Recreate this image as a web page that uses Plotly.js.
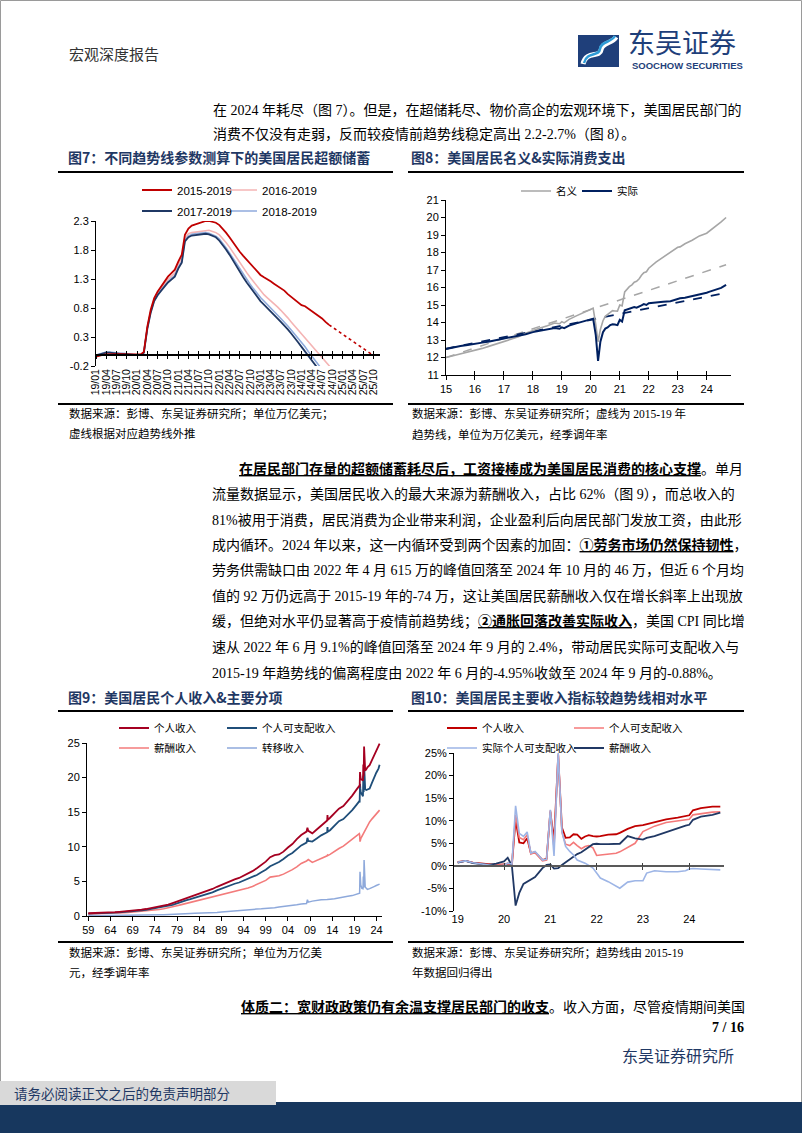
<!DOCTYPE html>
<html><head><meta charset="utf-8">
<script src="https://cdn.plot.ly/plotly-3.0.1.min.js"></script>
<style>html,body{margin:0;padding:0;background:#fff}#chart{width:802px;height:1133px}</style>
</head><body><div id="chart"></div>
<script>
// ---------------- DATA ----------------
// Fig 7: excess savings (trillion USD), monthly from 2019-01
const fig7Start = [2019, 1];
const save2015 = [-0.04,-0.02,-0.01,0.0,0.005,0.005,0.005,0.005,0.0,0.0,0.0,0.0,0.0,0.0,0.04,
  0.48,0.77,0.97,1.08,1.17,1.26,1.34,1.40,1.46,1.60,1.72,2.06,2.17,2.22,2.24,2.26,2.29,2.30,2.30,2.28,2.27,
  2.23,2.17,2.10,2.02,1.93,1.85,1.77,1.70,1.63,1.56,1.50,1.43,1.37,1.33,1.29,1.26,1.22,1.18,1.14,1.10,
  1.04,0.99,0.94,0.90,0.85,0.83,0.79,0.76,0.71,0.67,0.62,0.56,0.51];
const save2016 = [-0.02,0.0,0.02,0.03,0.03,0.03,0.02,0.02,0.01,0.01,0.0,0.0,-0.01,-0.01,0.03,
  0.46,0.75,0.95,1.06,1.14,1.22,1.29,1.35,1.40,1.55,1.66,2.00,2.08,2.10,2.11,2.12,2.13,2.14,2.14,2.12,2.10,
  2.06,2.00,1.93,1.85,1.76,1.67,1.58,1.49,1.41,1.33,1.25,1.17,1.10,1.03,0.98,0.93,0.88,0.82,0.76,0.70,
  0.63,0.56,0.49,0.42,0.35,0.28,0.21,0.14,0.08,0.02,-0.05,-0.12,-0.19,-0.26];
const save2017 = [-0.02,0.0,0.02,0.03,0.03,0.02,0.02,0.01,0.01,0.0,0.0,-0.01,-0.01,-0.01,0.03,
  0.44,0.72,0.92,1.02,1.10,1.17,1.24,1.29,1.34,1.48,1.58,1.95,2.02,2.05,2.06,2.07,2.08,2.08,2.07,2.05,2.02,
  1.96,1.89,1.81,1.72,1.62,1.52,1.42,1.33,1.24,1.16,1.08,1.00,0.92,0.86,0.80,0.74,0.68,0.62,0.56,0.50,
  0.43,0.36,0.29,0.21,0.13,0.05,-0.03,-0.11,-0.19,-0.26];
const save2018 = [-0.01,0.01,0.03,0.04,0.04,0.03,0.03,0.02,0.02,0.01,0.01,0.0,-0.01,-0.01,0.03,
  0.45,0.73,0.93,1.03,1.11,1.18,1.25,1.31,1.36,1.50,1.60,1.97,2.04,2.07,2.08,2.09,2.10,2.10,2.09,2.07,2.04,
  1.99,1.92,1.84,1.75,1.66,1.56,1.47,1.38,1.29,1.21,1.13,1.05,0.98,0.92,0.86,0.80,0.74,0.68,0.62,0.56,
  0.49,0.42,0.35,0.28,0.20,0.13,0.05,-0.03,-0.11,-0.19,-0.26];
const save2015ExtDates = ['2024-09-01','2025-10-01'];
const save2015Ext = [0.51,-0.02];
const fig7Names = ['2015-2019','2016-2019','2017-2019','2018-2019'];
const fig7YTicks = [-0.2,0.3,0.8,1.3,1.8,2.3];
const fig7YText = ['-0.2','0.3','0.8','1.3','1.8','2.3'];

// Fig 8: nominal & real PCE (trillion USD, SAAR)
const x8 = [2015.0,2015.25,2015.5,2015.75, 2016.0,2016.25,2016.5,2016.75, 2017.0,2017.25,2017.5,2017.75,
  2018.0,2018.25,2018.5,2018.75,2018.92, 2019.0,2019.08,2019.25,2019.5,2019.75,
  2020.0,2020.08,2020.17,2020.25,2020.33,2020.42,2020.5,2020.58,2020.67,2020.75,2020.83,2020.92,
  2021.0,2021.08,2021.17,2021.25,2021.33,2021.42,2021.5,2021.58,2021.67,2021.75,2021.83,2021.92,
  2022.0,2022.25,2022.5,2022.75, 2023.0,2023.08,2023.25,2023.5,2023.75, 2024.0,2024.08,2024.25,2024.5,2024.67];
const pceReal = [12.49,12.58,12.66,12.71, 12.76,12.85,12.92,13.00, 13.08,13.14,13.22,13.33,
  13.45,13.52,13.60,13.68,13.64, 13.72,13.68,13.82,13.95,14.05,
  14.17,14.22,13.30,11.80,12.90,13.45,13.65,13.72,13.85,13.90,13.88,13.85,
  14.15,14.05,14.70,14.75,14.78,14.82,14.88,14.85,14.90,14.98,15.05,15.00,
  15.10,15.12,15.18,15.22, 15.35,15.38,15.42,15.50,15.58, 15.70,15.75,15.85,15.98,16.15];
const pceNominal = [12.00,12.10,12.22,12.30, 12.40,12.52,12.65,12.78, 12.95,13.05,13.18,13.38,
  13.55,13.68,13.82,13.97,13.93, 14.05,13.98,14.18,14.38,14.55,
  14.75,14.82,13.90,12.90,13.60,14.10,14.35,14.45,14.60,14.68,14.66,14.65,
  15.00,14.95,15.75,15.90,16.05,16.15,16.30,16.35,16.50,16.70,16.85,16.90,
  17.10,17.45,17.75,18.00, 18.30,18.32,18.50,18.70,18.95, 19.10,19.20,19.45,19.75,20.00];
const trendX8 = [2015.0, 2024.67];
const trendNominal = [12.0, 17.3];
const trendReal = [12.5, 15.7];
const fig8XTicks = [2015,2016,2017,2018,2019,2020,2021,2022,2023,2024];
const fig8XText = ['15','16','17','18','19','20','21','22','23','24'];

// Fig 9: personal income & components (trillion USD, SAAR)
const x9 = [1959,1960,1961,1962,1963,1964,1965,1966,1967,1968,1969,1970,1971,1972,1973,1974,1975,1976,1977,1978,
  1979,1980,1981,1982,1983,1984,1985,1986,1987,1988,1989,1990,1991,1992,1993,1994,1995,1996,1997,1998,
  1999,2000,2001,2002,2003,2004,2005,2006,2007,
  2008.2,2008.4,2008.6,2009.5,2010.5,2011.5,2012.85,2012.92,2013.0,2013.5,2014.5,2015.5,2016.5,2017.5,2018.5,2019.5,
  2020.1,2020.17,2020.25,2020.33,2020.42,2020.67,2020.92,2021.0,2021.08,2021.17,2021.25,2021.42,2021.67,2021.92,
  2022.42,2022.92,2023.42,2023.92,2024.42,2024.67];
const personalIncome = [0.40,0.41,0.43,0.46,0.48,0.52,0.56,0.61,0.65,0.72,0.79,0.85,0.91,1.01,1.13,1.23,1.35,1.48,1.65,1.87,
  2.09,2.37,2.60,2.78,2.98,3.26,3.48,3.67,3.91,4.22,4.51,4.79,4.98,5.28,5.50,5.80,6.12,6.48,6.90,7.40,
  7.85,8.50,8.80,8.90,9.30,9.90,10.40,11.10,11.70,
  12.2,12.75,12.3,11.95,12.5,13.1,13.8,14.6,13.9,14.2,14.9,15.5,15.9,16.6,17.4,18.3,
  18.8,18.6,20.8,20.3,19.8,19.7,19.6,21.9,20.2,24.5,21.4,21.0,21.2,21.5,
  21.8,22.5,23.2,23.8,24.4,24.9];
const disposableIncome = [0.35,0.36,0.38,0.40,0.42,0.46,0.49,0.53,0.57,0.62,0.68,0.74,0.80,0.88,0.99,1.08,1.19,1.30,1.44,1.62,
  1.81,2.06,2.27,2.44,2.63,2.88,3.06,3.23,3.42,3.71,3.97,4.22,4.40,4.66,4.84,5.09,5.35,5.62,5.93,6.33,
  6.68,7.20,7.50,7.80,8.25,8.75,9.10,9.70,10.20,
  10.6,11.3,10.85,10.75,11.2,11.65,12.1,12.85,12.2,12.4,13.1,13.7,14.0,14.6,15.3,16.1,
  16.6,16.4,19.1,18.4,17.9,17.6,17.3,20.3,17.9,22.0,18.6,18.3,18.2,18.3,
  18.4,19.2,20.1,20.7,21.3,21.85];
const compensation = [0.28,0.29,0.30,0.32,0.34,0.37,0.40,0.44,0.47,0.52,0.57,0.61,0.65,0.72,0.80,0.87,0.94,1.05,1.17,1.33,
  1.49,1.64,1.80,1.90,2.03,2.21,2.36,2.50,2.68,2.88,3.05,3.23,3.33,3.52,3.66,3.86,4.05,4.27,4.55,4.88,
  5.15,5.62,5.72,5.82,6.05,6.35,6.70,7.10,7.60,
  7.95,8.1,8.15,7.75,8.0,8.35,8.7,8.8,8.75,8.9,9.35,9.75,10.1,10.6,11.15,11.6,
  11.9,11.7,10.75,10.9,11.2,11.5,11.75,11.85,11.9,12.0,12.15,12.4,12.75,13.1,
  13.6,14.0,14.4,14.8,15.05,15.3];
const transfers = [0.025,0.027,0.03,0.032,0.034,0.036,0.039,0.043,0.05,0.057,0.064,0.075,0.088,0.10,0.113,0.133,0.17,0.185,0.198,0.213,
  0.235,0.28,0.32,0.36,0.39,0.40,0.43,0.46,0.48,0.52,0.57,0.63,0.71,0.78,0.83,0.87,0.92,0.97,1.0,1.03,
  1.06,1.1,1.2,1.29,1.35,1.43,1.52,1.62,1.72,
  1.8,2.35,2.0,2.15,2.3,2.35,2.37,2.38,2.4,2.42,2.5,2.65,2.75,2.85,2.95,3.1,
  3.2,3.3,6.4,5.0,4.5,4.0,3.95,5.7,4.1,8.1,4.6,4.2,4.0,3.85,
  3.95,4.05,4.25,4.4,4.5,4.6];
const fig9XTicks = [1959,1964,1969,1974,1979,1984,1989,1994,1999,2004,2009,2014,2019,2024];
const fig9XText = ['59','64','69','74','79','84','89','94','99','04','09','14','19','24'];

// Fig 10: deviation from 2015-19 trend (%)
const x10 = [2019.0,2019.17,2019.33,2019.5,2019.67,2019.83,
  2020.0,2020.08,2020.17,2020.25,2020.33,2020.42,2020.5,2020.58,2020.67,2020.75,2020.83,2020.92,
  2021.0,2021.08,2021.17,2021.25,2021.33,2021.42,2021.5,2021.58,2021.67,2021.75,2021.83,2021.92,
  2022.0,2022.08,2022.25,2022.42,2022.5,2022.67,2022.83,
  2023.0,2023.08,2023.25,2023.5,2023.75,2023.92,
  2024.0,2024.08,2024.25,2024.5,2024.67];
const devIncome = [0.8,1.1,0.7,0.5,0.3,0.2,
  0.3,0.5,0.2,10.3,5.2,5.0,6.1,2.8,3.0,2.2,1.3,1.6,
  12.0,5.5,24.5,8.5,6.2,6.3,7.0,6.9,6.0,6.5,6.8,6.6,
  6.5,6.6,6.9,7.0,7.3,8.2,8.8,
  9.0,9.2,9.6,10.3,10.7,11.0,
  11.2,12.3,12.8,13.1,13.1];
const devDisposable = [0.9,1.1,0.7,0.4,0.3,0.2,
  0.2,0.6,0.3,11.3,6.3,5.8,6.9,2.6,3.0,2.0,1.1,1.3,
  12.3,4.0,24.8,7.5,4.8,4.5,5.2,4.5,3.8,4.3,4.5,4.0,
  2.3,2.4,2.6,2.8,3.1,4.0,5.0,
  7.6,8.0,8.8,9.6,10.0,10.2,
  10.3,11.3,11.6,11.9,12.0];
const devRealDisposable = [0.8,1.1,0.7,0.5,0.2,-0.1,
  0.1,0.6,0.4,13.3,7.2,6.5,7.5,2.8,3.2,2.3,1.3,1.5,
  12.4,2.2,25.0,7.6,4.3,3.2,2.4,1.3,1.0,0.6,0.1,-0.5,
  -1.6,-2.7,-3.5,-4.6,-4.95,-3.6,-3.3,
  -3.3,-1.6,-1.1,-1.3,-1.3,-1.1,
  -0.7,-0.6,-0.7,-0.8,-0.88];
const devCompensation = [0.7,1.1,0.6,0.4,0.2,0.5,
  1.0,1.8,0.0,-8.8,-6.0,-4.0,-3.5,-2.9,-2.5,-1.5,-0.5,0.2,
  0.3,-0.6,-0.5,0.2,0.8,1.5,2.0,2.6,3.0,3.6,4.3,4.8,
  4.9,4.8,4.8,4.8,4.9,6.6,6.1,
  5.8,6.2,6.6,7.5,8.4,8.9,
  9.1,10.2,10.9,11.3,11.8];
const fig10XTicks = [2019,2020,2021,2022,2023,2024];
const fig10XText = ['19','20','21','22','23','24'];
const fig10YTicks = [-10,-5,0,5,10,15,20,25];
const fig10YText = ['-10%','-5%','0%','5%','10%','15%','20%','25%'];

// ---------------- LAYOUT HELPERS ----------------
const W=802, H=1133;
const X = p => p/W, Y = p => 1 - p/H;
const SERIF = "'Liberation Serif','Noto Sans CJK SC',serif";
const SANS = "'Liberation Sans',Arial,sans-serif";
const CJK = "'Noto Sans CJK SC',sans-serif";
const NAVY = '#1F3864';
const C = {red:'#C00000', pink:'#F4B4B4', navy:'#1F3864', lblue:'#8FAADC',
  gray:'#A6A6A6', navy8:'#002060', salmon:'#F37B7B', navy9:'#1F4E79', lblue9:'#8EA9DB', pink10:'#F47A7A', navy10:'#203864', lblue10:'#9DB5E6'};

const months7 = [];
for (let i=0;i<70;i++){ const yy=fig7Start[0]+Math.floor((fig7Start[1]-1+i)/12); const mm=(fig7Start[1]-1+i)%12+1; months7.push(yy+'-'+String(mm).padStart(2,'0')+'-01'); }

const traces = [];
function line(x,y,color,width,opts){ return Object.assign({type:'scatter',mode:'lines',x:x,y:y,line:{color:color,width:width},hoverinfo:'skip'},opts||{}); }

// fig7
traces.push(line(months7.slice(0,save2016.length),save2016,C.pink,1.6,{name:fig7Names[1],legend:'legend2'}));
traces.push(line(months7.slice(0,save2018.length),save2018,C.lblue,1.6,{name:fig7Names[3],legend:'legend4'}));
traces.push(line(months7.slice(0,save2017.length),save2017,C.navy,1.8,{name:fig7Names[2],legend:'legend3'}));
traces.push(line(months7.slice(0,save2015.length),save2015,C.red,1.8,{name:fig7Names[0],legend:'legend'}));
traces.push(line(save2015ExtDates,save2015Ext,C.red,1.6,{showlegend:false,line:{color:C.red,width:1.6,dash:'dot'}}));
traces.push({type:'scatter',x:[],y:[],xaxis:'x5',yaxis:'y',showlegend:false});
traces.push({type:'scatter',x:[],y:[],xaxis:'x6',yaxis:'y',showlegend:false});

// fig8
traces.push(line(trendX8,trendNominal,C.gray,1.5,{xaxis:'x2',yaxis:'y2',showlegend:false,line:{color:C.gray,width:1.5,dash:'dash'}}));
traces.push(line(trendX8,trendReal,C.navy8,1.8,{xaxis:'x2',yaxis:'y2',showlegend:false,line:{color:C.navy8,width:1.8,dash:'dash'}}));
traces.push(line(x8,pceNominal,C.gray,1.6,{xaxis:'x2',yaxis:'y2',name:'名义',legend:'legend5'}));
traces.push(line(x8,pceReal,C.navy8,2,{xaxis:'x2',yaxis:'y2',name:'实际',legend:'legend6'}));
traces.push({type:'scatter',x:[],y:[],xaxis:'x9',yaxis:'y2',showlegend:false});

// fig9
traces.push(line(x9,transfers,C.lblue9,1.5,{xaxis:'x3',yaxis:'y3',name:'转移收入',legend:'legend10'}));
traces.push(line(x9,compensation,C.salmon,1.6,{xaxis:'x3',yaxis:'y3',name:'薪酬收入',legend:'legend9'}));
traces.push(line(x9,disposableIncome,C.navy9,1.8,{xaxis:'x3',yaxis:'y3',name:'个人可支配收入',legend:'legend8'}));
traces.push(line(x9,personalIncome,'#A50021',1.8,{xaxis:'x3',yaxis:'y3',name:'个人收入',legend:'legend7'}));

// fig10
traces.push(line(x10,devIncome,C.red,1.8,{xaxis:'x4',yaxis:'y4',name:'个人收入',legend:'legend11'}));
traces.push(line(x10,devDisposable,C.pink10,1.6,{xaxis:'x4',yaxis:'y4',name:'个人可支配收入',legend:'legend12'}));
traces.push(line(x10,devCompensation,C.navy10,1.8,{xaxis:'x4',yaxis:'y4',name:'薪酬收入',legend:'legend14'}));
traces.push(line(x10,devRealDisposable,C.lblue10,1.6,{xaxis:'x4',yaxis:'y4',name:'实际个人可支配收入',legend:'legend13'}));
traces.push({type:'scatter',x:[],y:[],xaxis:'x7',yaxis:'y4',showlegend:false});
traces.push({type:'scatter',x:[],y:[],xaxis:'x8',yaxis:'y4',showlegend:false});

// axes
const tf = {family:SANS,size:11,color:'#000'};
const y7dom=[Y(366),Y(221)], y7range=[-0.2,2.3];
const zero7 = y7dom[0]+(0-y7range[0])/(y7range[1]-y7range[0])*(y7dom[1]-y7dom[0]);
const x7range=['2019-01-01','2025-11-28'];
const y10dom=[Y(911),Y(753)], y10range=[-10,25];
const zero10 = y10dom[0]+(0-y10range[0])/(y10range[1]-y10range[0])*(y10dom[1]-y10dom[0]);
const x10range=[2018.92,2024.75];
const base = {showgrid:false,zeroline:false,fixedrange:true};

const layout = {
  width:W,height:H,margin:{l:0,r:0,t:0,b:0},paper_bgcolor:'#fff',plot_bgcolor:'rgba(0,0,0,0)',
  font:{family:SANS,size:11,color:'#000'},showlegend:true,
  xaxis:Object.assign({},base,{domain:[X(96),X(380)],anchor:'y',type:'date',range:x7range,tick0:'2019-01-01',dtick:'M3',tickformat:'%y/%m',tickangle:-90,ticks:'',showline:false,tickfont:{family:SANS,size:10.5,color:'#000'}}),
  yaxis:Object.assign({},base,{domain:y7dom,anchor:'x',range:y7range,tickvals:fig7YTicks,ticktext:fig7YText,ticks:'outside',ticklen:4,tickcolor:'#000',showline:true,linecolor:'#000',linewidth:1,tickfont:tf}),
  xaxis5:Object.assign({},base,{overlaying:'x',anchor:'free',position:zero7,type:'date',range:x7range,tick0:'2019-01-01',dtick:'M3',ticks:'outside',ticklen:3,tickcolor:'#000',tickwidth:1,showticklabels:false,showline:true,linecolor:'#000',linewidth:1.5}),
  xaxis6:Object.assign({},base,{overlaying:'x',anchor:'free',position:zero7,type:'date',range:x7range,tick0:'2019-01-01',dtick:'M3',ticks:'inside',ticklen:3,tickcolor:'#000',tickwidth:1,showticklabels:false,showline:false}),

  xaxis2:Object.assign({},base,{domain:[X(446),X(731)],anchor:'y2',range:[2015,2024.84],tickvals:fig8XTicks,ticktext:fig8XText,ticks:'outside',ticklen:4,tickcolor:'#000',showline:true,linecolor:'#000',linewidth:1,tickfont:tf}),
  xaxis9:Object.assign({},base,{overlaying:'x2',anchor:'y2',range:[2015,2024.84],tickvals:fig8XTicks,ticks:'inside',ticklen:4,tickcolor:'#000',showticklabels:false,showline:false}),
  yaxis2:Object.assign({},base,{domain:[Y(375),Y(200)],anchor:'x2',range:[11,21],dtick:1,ticks:'outside',ticklen:4,tickcolor:'#000',showline:true,linecolor:'#000',linewidth:1,tickfont:tf}),

  xaxis3:Object.assign({},base,{domain:[X(87),X(382)],anchor:'y3',range:[1958.71,2025.21],tickvals:fig9XTicks,ticktext:fig9XText,ticks:'outside',ticklen:4,tickcolor:'#000',showline:true,linecolor:'#000',linewidth:1,tickfont:tf}),
  yaxis3:Object.assign({},base,{domain:[Y(916),Y(743)],anchor:'x3',range:[0,25],dtick:5,ticks:'outside',ticklen:4,tickcolor:'#000',showline:true,linecolor:'#000',linewidth:1,tickfont:tf}),

  xaxis4:Object.assign({},base,{domain:[X(454),X(724)],anchor:'y4',range:x10range,tickvals:fig10XTicks,ticktext:fig10XText,ticks:'',showline:false,tickfont:tf}),
  yaxis4:Object.assign({},base,{domain:y10dom,anchor:'x4',range:y10range,tickvals:fig10YTicks,ticktext:fig10YText,ticks:'outside',ticklen:4,tickcolor:'#000',showline:true,linecolor:'#000',linewidth:1,tickfont:tf}),
  xaxis7:Object.assign({},base,{overlaying:'x4',anchor:'free',position:zero10,range:x10range,tickvals:fig10XTicks.slice(1),ticks:'outside',ticklen:3,tickcolor:'#404040',showticklabels:false,showline:true,linecolor:'#595959',linewidth:2}),
  xaxis8:Object.assign({},base,{overlaying:'x4',anchor:'free',position:zero10,range:x10range,tickvals:fig10XTicks.slice(1),ticks:'inside',ticklen:3,tickcolor:'#404040',showticklabels:false,showline:false}),
  shapes:[],annotations:[]
};

// legends (one entry each)
function leg(lineX,rowY,fam,size){ return {x:X(lineX-11),y:Y(rowY),xanchor:'left',yanchor:'middle',orientation:'h',bgcolor:'rgba(0,0,0,0)',borderwidth:0,font:{family:fam,size:size,color:'#000'},itemwidth:30,tracegroupgap:0,itemclick:false,itemdoubleclick:false}; }
layout.legend  = leg(148,190,SANS,11.5);
layout.legend2 = leg(233,190,SANS,11.5);
layout.legend3 = leg(148,211,SANS,11.5);
layout.legend4 = leg(233,211,SANS,11.5);
layout.legend5 = leg(527,191,CJK,10.5);
layout.legend6 = leg(588,191,CJK,10.5);
layout.legend7 = leg(125,728,CJK,10.5);
layout.legend8 = leg(233,728,CJK,10.5);
layout.legend9 = leg(125,748,CJK,10.5);
layout.legend10= leg(233,748,CJK,10.5);
layout.legend11= leg(453,728,CJK,10.5);
layout.legend12= leg(580,728,CJK,10.5);
layout.legend13= leg(453,748,CJK,10.5);
layout.legend14= leg(580,748,CJK,10.5);

// shapes
function hl(x0,x1,y,w,color){ layout.shapes.push({type:'line',xref:'paper',yref:'paper',x0:X(x0),x1:X(x1),y0:Y(y),y1:Y(y),line:{color:color||'#000',width:w}}); }
function rect(x0,y0,x1,y1,fill,lc,lw){ layout.shapes.push({type:'rect',xref:'paper',yref:'paper',x0:X(x0),x1:X(x1),y0:Y(y1),y1:Y(y0),fillcolor:fill,line:{color:lc||'rgba(0,0,0,0)',width:lw||0}}); }
function pth(pts,color,w){ let d=''; pts.forEach((p,i)=>{ d+=(i?(p.length>2?' C ':' L '):'M ')+ (p.length>2? [X(p[0]),Y(p[1]),X(p[2]),Y(p[3]),X(p[4]),Y(p[5])].join(' ') : X(p[0])+' '+Y(p[1])); }); layout.shapes.push({type:'path',xref:'paper',yref:'paper',path:d,line:{color:color,width:w}}); }

rect(0.5,0.5,801.5,1132.5,'rgba(0,0,0,0)','#9A9A9A',1);
hl(58,393,172,1.8); hl(408,744,172,1.8);
hl(58,393,404,1.8); hl(408,744,404,1.8);
hl(58,393,711,1.8); hl(408,744,711,1.8);
hl(58,393,942,1.8); hl(408,744,942,1.8);
// footer
rect(0,1102,802,1133,'#17375E');
rect(0,1081,276,1105,'#D9D9D9');
// logo
rect(578,35,619,67,'#1F3F7A');
pth([[583,64],[586,50,600,58,601,50],[602,42,612,44,616,37]],'#FFFFFF',5);
pth([[584,63],[587,51,599,57,600,49],[601,41,611,43,615,36]],'#2E9BD6',2.5);

// annotations
function T(txt,x,y,size,opts){ layout.annotations.push(Object.assign({text:txt,xref:'paper',yref:'paper',x:X(x),y:Y(y),xanchor:'left',yanchor:'middle',showarrow:false,font:{family:SERIF,size:size,color:'#000'}},opts||{})); }

T('宏观深度报告',67,54,15,{font:{family:CJK,size:15,color:'#333'}});
T('东吴证券',626,41,27,{font:{family:CJK,size:27,color:'#1F3F7A'}});
T('<b>SOOCHOW SECURITIES</b>',630,66,9.5,{font:{family:SANS,size:9.5,color:'#1F3F7A'}});

T('在 2024 年耗尽（图 7）。但是，在超储耗尽、物价高企的宏观环境下，美国居民部门的',211,110,14);
T('消费不仅没有走弱，反而较疫情前趋势线稳定高出 2.2-2.7%（图 8）。',211,134,14);

const titleFont = {family:CJK,size:14,color:NAVY};
T('<b>图7：不同趋势线参数测算下的美国居民超额储蓄</b>',66,157,14,{font:titleFont});
T('<b>图8：美国居民名义&amp;实际消费支出</b>',409,157,14,{font:titleFont});
T('<b>图9：美国居民个人收入&amp;主要分项</b>',66,697,14,{font:titleFont});
T('<b>图10：美国居民主要收入指标较趋势线相对水平</b>',409,697,14,{font:titleFont});

const capFont = {family:SERIF,size:11.5,color:'#000'};
T('数据来源：彭博、东吴证券研究所；单位万亿美元；',67,413,11.5,{font:capFont});
T('虚线根据对应趋势线外推',67,433,11.5,{font:capFont});
T('数据来源：彭博、东吴证券研究所；虚线为 2015-19 年',410,413,11.5,{font:capFont});
T('趋势线，单位为万亿美元，经季调年率',410,434,11.5,{font:capFont});
T('数据来源：彭博、东吴证券研究所；单位为万亿美',67,952,11.5,{font:capFont});
T('元，经季调年率',67,972,11.5,{font:capFont});
T('数据来源：彭博、东吴证券研究所；趋势线由 2015-19',410,952,11.5,{font:capFont});
T('年数据回归得出',410,972,11.5,{font:capFont});

const para = [
 ['<b><u>在居民部门存量的超额储蓄耗尽后，工资接棒成为美国居民消费的核心支撑</u></b>。单月',237],
 ['流量数据显示，美国居民收入的最大来源为薪酬收入，占比 62%（图 9），而总收入的',210],
 ['81%被用于消费，居民消费为企业带来利润，企业盈利后向居民部门发放工资，由此形',210],
 ['成内循环。2024 年以来，这一内循环受到两个因素的加固：<b><u>①劳务市场仍然保持韧性</u></b>，',210],
 ['劳务供需缺口由 2022 年 4 月 615 万的峰值回落至 2024 年 10 月的 46 万，但近 6 个月均',210],
 ['值的 92 万仍远高于 2015-19 年的-74 万，这让美国居民薪酬收入仅在增长斜率上出现放',210],
 ['缓，但绝对水平仍显著高于疫情前趋势线；<b><u>②通胀回落改善实际收入</u></b>，美国 CPI 同比增',210],
 ['速从 2022 年 6 月 9.1%的峰值回落至 2024 年 9 月的 2.4%，带动居民实际可支配收入与',210],
 ['2015-19 年趋势线的偏离程度由 2022 年 6 月的-4.95%收敛至 2024 年 9 月的-0.88%。',210]
];
para.forEach((p,i)=>T(p[0],p[1],469+25.45*i,14));

T('<b><u>体质二：宽财政政策仍有余温支撑居民部门的收支</u></b>。收入方面，尽管疫情期间美国',239,1007,14);
T('<b>7 / 16</b>',746,1027,14,{xanchor:'right'});
T('东吴证券研究所',736,1055,16,{xanchor:'right',font:{family:CJK,size:16,color:NAVY}});
T('请务必阅读正文之后的免责声明部分',12,1093,13.5,{font:{family:CJK,size:13.5,color:NAVY}});

Plotly.newPlot('chart',traces,layout,{staticPlot:true,displayModeBar:false});
</script></body></html>
